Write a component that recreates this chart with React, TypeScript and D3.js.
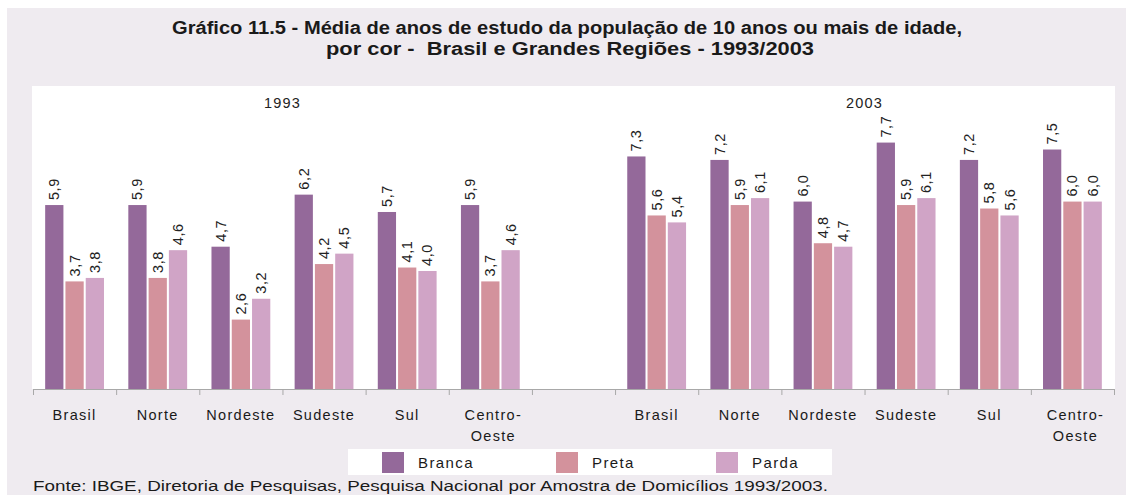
import React from "react";
import * as d3 from "d3";

const regions = ["Brasil", "Norte", "Nordeste", "Sudeste", "Sul", "Centro-Oeste"];
const years = ["1993", "2003"];
const series = ["Branca", "Preta", "Parda"];
const values1993: Record<string, number[]> = {
  Branca: [5.9, 5.9, 4.7, 6.2, 5.7, 5.9],
  Preta: [3.7, 3.8, 2.6, 4.2, 4.1, 3.7],
  Parda: [3.8, 4.6, 3.2, 4.5, 4.0, 4.6],
};
const values2003: Record<string, number[]> = {
  Branca: [7.3, 7.2, 6.0, 7.7, 7.2, 7.5],
  Preta: [5.6, 5.9, 4.8, 5.9, 5.8, 6.0],
  Parda: [5.4, 6.1, 4.7, 6.1, 5.6, 6.0],
};
const colors: Record<string, string> = { Branca: "#94699a", Preta: "#d3929c", Parda: "#d0a4c6" };
const titleLines = [
  "Gráfico 11.5 - Média de anos de estudo da população de 10 anos ou mais de idade,",
  "por cor -  Brasil e Grandes Regiões - 1993/2003",
];
const source = "Fonte: IBGE, Diretoria de Pesquisas, Pesquisa Nacional por Amostra de Domicílios 1993/2003.";
const yDomain = [0.6, 9.33];

const W = 1126, H = 495;
const plot = { left: 33, right: 1114, top: 86, bottom: 389 };
const font = "'Liberation Sans', Arial, sans-serif";

export default function App() {
  const slots = [...regions.map((r) => "1993|" + r), "gap", ...regions.map((r) => "2003|" + r)];
  const x = d3.scaleBand().domain(slots).range([plot.left, plot.right]).padding(0);
  const inner = d3.scaleBand().domain(series).range([0, x.bandwidth()]).paddingInner(0.1).paddingOuter(0.6);
  const y = d3.scaleLinear().domain(yDomain).range([plot.bottom, plot.top]);
  const fmt = (v: number) => v.toFixed(1).replace(".", ",");

  const bars: { key: string; s: string; v: number; x0: number }[] = [];
  years.forEach((yr) => {
    const vals = yr === "1993" ? values1993 : values2003;
    regions.forEach((r, i) => {
      series.forEach((s) => {
        bars.push({ key: `${yr}|${r}|${s}`, s, v: vals[s][i], x0: (x(`${yr}|${r}`) as number) + (inner(s) as number) });
      });
    });
  });

  const tickXs = slots.map((s) => x(s) as number).concat([plot.right]);
  const legendX = [382, 556, 716];
  const titleStarts = [172, 326];
  const titleWidths = [790, 488];

  return (
    <svg width={W} height={H} style={{ position: "absolute", left: 0, top: 0, display: "block" }} fontFamily={font}>
      <rect x={0} y={0} width={W} height={H} fill="#ffffff" />
      <rect x={7} y={8} width={W - 7} height={H - 8} fill="#efebf0" />
      <rect x={32} y={plot.top} width={1115 - 32} height={plot.bottom - plot.top} fill="#ffffff" />
      {titleLines.map((t, i) => (
        <text key={i} x={titleStarts[i]} y={34 + i * 21} fontWeight="bold" fontSize={18}
          textLength={titleWidths[i]} lengthAdjust="spacingAndGlyphs" style={{ whiteSpace: "pre" }} fill="#1a1a1a">
          {t}
        </text>
      ))}
      {years.map((yr) => {
        const first = x(`${yr}|${regions[0]}`) as number;
        const last = (x(`${yr}|${regions[regions.length - 1]}`) as number) + x.bandwidth();
        return (
          <text key={yr} x={(first + last) / 2} y={108} textAnchor="middle" fontSize={14.5} letterSpacing={1.2} fill="#222">
            {yr}
          </text>
        );
      })}
      {bars.map((b) => (
        <rect key={b.key} x={b.x0} y={y(b.v)} width={inner.bandwidth()} height={plot.bottom - y(b.v)} fill={colors[b.s]} />
      ))}
      {bars.map((b) => {
        const cx = b.x0 + inner.bandwidth() / 2;
        const ty = y(b.v) - 5;
        return (
          <text key={"l" + b.key} transform={`translate(${cx},${ty}) rotate(-90)`} dominantBaseline="central" fontSize={14.5} letterSpacing={0.6} fill="#222">
            {fmt(b.v)}
          </text>
        );
      })}
      <line x1={plot.left} x2={plot.right} y1={plot.bottom + 0.5} y2={plot.bottom + 0.5} stroke="#a8a8a8" strokeWidth={1} />
      {tickXs.map((tx, i) => (
        <line key={i} x1={tx + 0.5} x2={tx + 0.5} y1={plot.bottom} y2={plot.bottom + 6} stroke="#a8a8a8" strokeWidth={1} />
      ))}
      {slots.map((s) => {
        if (s === "gap") return null;
        const name = s.split("|")[1];
        const cx = (x(s) as number) + x.bandwidth() / 2;
        const parts = name === "Centro-Oeste" ? ["Centro-", "Oeste"] : [name];
        return parts.map((p, j) => (
          <text key={s + j} x={cx + (parts.length > 1 ? 3 : 0)} y={420 + j * 21} textAnchor="middle" fontSize={14.5} letterSpacing={1.3} fill="#1a1a1a">
            {p}
          </text>
        ));
      })}
      <rect x={348} y={449} width={832 - 348} height={26} fill="#ffffff" />
      {series.map((s, i) => (
        <g key={s}>
          <rect x={legendX[i]} y={452} width={22} height={21} fill={colors[s]} />
          <text x={legendX[i] + 36} y={468} fontSize={15} letterSpacing={1.4} fill="#1a1a1a">
            {s}
          </text>
        </g>
      ))}
      <text x={33} y={491} fontSize={15.5} textLength={795} lengthAdjust="spacingAndGlyphs" fill="#1a1a1a">
        {source}
      </text>
    </svg>
  );
}
